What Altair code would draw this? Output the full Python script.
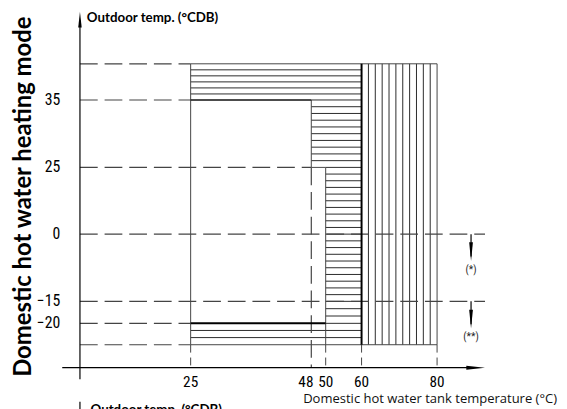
import altair as alt
import numpy as np
import pandas as pd

# ---------------- values ----------------
tank_ticks = [25, 48, 50, 60, 80]          # Domestic hot water tank temperature (°C)
outdoor_ticks = [35, 25, 0, -15, -20]       # Outdoor temp. (°CDB)
outdoor_top, outdoor_bottom = 43, -25       # unlabeled upper / lower limits
tank_min, hp_hot, hp_cold, hp_limit, tank_max = 25, 48, 50, 60, 80
note_levels = [0, -15]
note_labels = ["(*)", "(**)"]
note_tips = [-6, -21.2]
note_text_levels = [-8, -23.3]

# ---------------- schematic (not-to-scale) axes ----------------
x_axis_level = -30
y_axis_pos = 0
X_BREAKS = [0, 25, 48, 50, 60, 80]
X_PIX = [73, 185.3, 307.7, 322.3, 358.7, 435.3]
Y_BREAKS = [-30, -25, -20, -15, 0, 25, 35, 43]
Y_PIX = [362, 338.7, 317, 294.7, 226.5, 158.8, 90.4, 53.7]
x_left, x_right, note_x = -4, 92.7, 89
y_top, y_bottom = 54.5, -32.5

xscale = alt.Scale(domain=X_BREAKS, range=X_PIX, nice=False, zero=False)
yscale = alt.Scale(domain=Y_BREAKS, range=Y_PIX, nice=False, zero=False)

NARROW = "Roboto Condensed"
BOLD = "Lato"
SANS = "Open Sans"


def seg(x, x2, y, y2):
    return dict(x=float(x), x2=float(x2), y=float(y), y2=float(y2))


def rules(segs, color, width, dash=None):
    kw = dict(color=color, strokeWidth=width)
    if dash:
        kw["strokeDash"] = dash
    return alt.Chart(pd.DataFrame(segs)).mark_rule(**kw).encode(
        x=alt.X("x:Q", scale=xscale, axis=None),
        x2="x2:Q",
        y=alt.Y("y:Q", scale=yscale, axis=None),
        y2="y2:Q",
    )


# outline of the operating zones
thin = [
    seg(tank_min, tank_min, outdoor_top, outdoor_bottom),
    seg(tank_max, tank_max, outdoor_top, outdoor_bottom),
    seg(hp_cold, hp_cold, 25, outdoor_bottom),
    seg(hp_hot, hp_hot, 35, 25),
    seg(tank_min, tank_max, outdoor_top, outdoor_top),
    seg(tank_min, tank_max, outdoor_bottom, outdoor_bottom),
    seg(hp_hot, hp_cold, 25, 25),
]
dark = [seg(tank_min, hp_hot, 35, 35)]
thick = [seg(hp_limit, hp_limit, outdoor_top, outdoor_bottom),
         seg(tank_min, hp_cold, -20, -20)]

dashed = [seg(y_axis_pos, tank_min, v, v) for v in [outdoor_top, 35, -20, outdoor_bottom]]
dashed += [seg(y_axis_pos, hp_hot, 25, 25)]
dashed += [seg(y_axis_pos, x_right, v, v) for v in note_levels]
dashed += [seg(hp_hot, hp_hot, 25, x_axis_level)]
tick_ext = [seg(v, v, outdoor_bottom, x_axis_level) for v in [tank_min, hp_cold, hp_limit, tank_max]]

# hatching
bands = [(35, outdoor_top, 6, tank_min), (25, 35, 10, hp_hot), (0, 25, 10, hp_cold),
         (-15, 0, 10, hp_cold), (-20, -15, 3, hp_cold), (outdoor_bottom, -20, 3, tank_min)]
hatch = []
for lo, hi, n, x0 in bands:
    for v in np.linspace(lo, hi, n + 1)[1:-1]:
        hatch.append(seg(x0, hp_limit, v, v))
for v, x0 in [(35, hp_hot), (25, hp_cold), (0, hp_cold), (-15, hp_cold), (-20, hp_cold)]:
    hatch.append(seg(x0, hp_limit, v, v))
for v in np.linspace(hp_limit, tank_max, 12)[1:-1]:
    hatch.append(seg(v, v, outdoor_bottom, outdoor_top))

axes = [seg(y_axis_pos, y_axis_pos, y_bottom, y_top - 2),
        seg(x_left, x_right - 3, x_axis_level, x_axis_level)]
stems = [seg(note_x, note_x, lv, tp + 1) for lv, tp in zip(note_levels, note_tips)]
next_fig = [seg(y_axis_pos, y_axis_pos, -37.4, -41)]


def arrow(xs, ys, shape, size):
    return alt.Chart(pd.DataFrame({"x": xs, "y": ys})).mark_point(
        shape=shape, size=size, filled=True, color="black", opacity=1, strokeWidth=0
    ).encode(x=alt.X("x:Q", scale=xscale, axis=None), y=alt.Y("y:Q", scale=yscale, axis=None))


up = arrow([y_axis_pos], [y_top], "M0,0L-0.22,2L0.22,2Z", 256)
right = arrow([x_right], [x_axis_level], "M0,0L-2,-0.22L-2,0.22Z", 361)
down = arrow([note_x] * 2, note_tips, "M0,0L-0.2,-2L0.2,-2Z", 361)

ylab_df = pd.DataFrame({"y": outdoor_ticks,
                        "t": [str(v).replace("-", "\u2212") for v in outdoor_ticks]})
ylabels = alt.Chart(ylab_df).mark_text(
    align="right", baseline="middle", font=NARROW, fontSize=16, color="black"
).encode(x=alt.value(53), y=alt.Y("y:Q", scale=yscale, axis=None), text="t:N")

xlab_df = pd.DataFrame({"x": tank_ticks, "t": [str(v) for v in tank_ticks]})
xlabels = alt.Chart(xlab_df).transform_filter("datum.x != 48").mark_text(
    align="center", baseline="alphabetic", font=NARROW, fontSize=15.5, color="black"
).encode(x=alt.X("x:Q", scale=xscale, axis=None), y=alt.value(382), text="t:N")
xlabel48 = alt.Chart(xlab_df).transform_filter("datum.x == 48").mark_text(
    align="center", baseline="alphabetic", font=NARROW, fontSize=15.5, color="black", dx=-5.5
).encode(x=alt.X("x:Q", scale=xscale, axis=None), y=alt.value(382), text="t:N")

notes = alt.Chart(pd.DataFrame({"x": [note_x] * 2, "y": note_text_levels, "t": note_labels})).mark_text(
    align="center", baseline="middle", font=NARROW, fontSize=10.5, color="#222"
).encode(x=alt.X("x:Q", scale=xscale, axis=None), y=alt.Y("y:Q", scale=yscale, axis=None), text="t:N")


def label(text, x, y, **kw):
    return alt.Chart(pd.DataFrame({"t": [text]})).mark_text(**kw).encode(
        x=alt.value(x), y=alt.value(y), text="t:N")


title_left = label("Domestic hot water heating mode", 23.7, 188.5, angle=270, align="center",
                   baseline="alphabetic", font=BOLD, fontSize=24.2, fontWeight="bold", color="black")
title_y = label("Outdoor temp. (°CDB)", 80, 11, align="left", baseline="alphabetic",
                font=BOLD, fontSize=13.5, fontWeight="bold", color="black")
title_x = label("Domestic hot water tank temperature (°C)", 557, 398, align="right",
                baseline="alphabetic", font=SANS, fontSize=13.2, color="#111")
next_title = label("Outdoor temp. (°CDB)", 83.7, 408.6, align="left", baseline="alphabetic",
                   font=BOLD, fontSize=13.5, fontWeight="bold", color="black")

chart = alt.layer(
    rules(hatch, "#2a2a2a", 1),
    rules(thin, "#444", 1),
    rules(dashed, "#444", 1.2, [18, 7]),
    rules(tick_ext, "#444", 1, [8, 5]),
    rules(dark, "#111", 1.4),
    rules(thick, "#000", 2),
    rules(axes, "#000", 1.2),
    rules(stems, "#000", 1.2),
    rules(next_fig, "#000", 1.2),
    up, right, down,
    ylabels, xlabels, xlabel48, notes,
    title_left, title_y, title_x, next_title,
).properties(
    width=559, height=401, padding=0, autosize="none"
).configure_view(stroke=None)

chart.save("out.html", embed_options={"renderer": "svg", "actions": False})
